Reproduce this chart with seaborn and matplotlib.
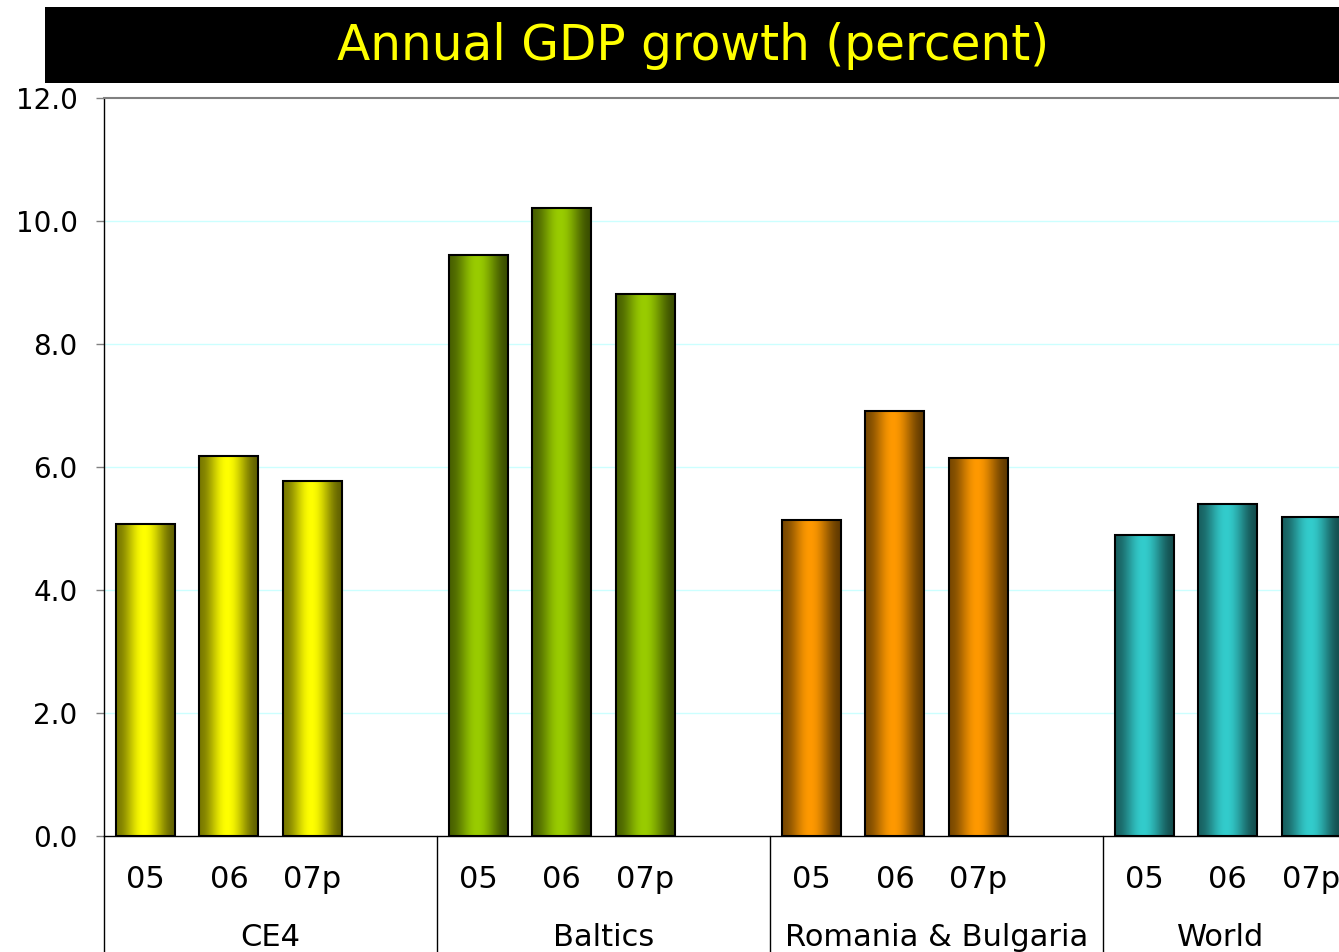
import numpy as np
import pandas as pd
import matplotlib
matplotlib.use("Agg")
import matplotlib.pyplot as plt
import matplotlib.transforms as mtransforms
from matplotlib.patches import Rectangle
import seaborn as sns

# ---- data ----
regions = ["CE4", "Baltics", "Romania & Bulgaria", "World"]
years = ["05", "06", "07p"]
ce4 = [5.07, 6.18, 5.77]
baltics = [9.45, 10.21, 8.81]
rom_bul = [5.14, 6.91, 6.15]
world = [4.89, 5.40, 5.19]
region_colors = ["#FFFF00", "#99CC00", "#FF9900", "#33CCCC"]
yticks = [0.0, 2.0, 4.0, 6.0, 8.0, 10.0, 12.0]
title = "Annual GDP growth (percent)"

values = [ce4, baltics, rom_bul, world]
rows = []
for r, vals in zip(regions, values):
    for y, v in zip(years, vals):
        rows.append({"key": f"{r}|{y}", "region": r, "year": y, "value": v})
df = pd.DataFrame(rows)

# slots: 3 years + one empty gap per region
order = []
tick_labels = []
for r in regions:
    for y in years + ["_gap"]:
        order.append(f"{r}|{y}")
        tick_labels.append(y if y != "_gap" else "")

sns.set_theme(style="white")
plt.rcParams["font.family"] = ["DejaVu Sans"]

W, H = 1339, 952
fig = plt.figure(figsize=(W / 100, H / 100), dpi=100)
ax_left, ax_right = 104, 104 + 83.25 * 16
ax_top, ax_bot = 98, 836
ax = fig.add_axes([ax_left / W, 1 - ax_bot / H, (ax_right - ax_left) / W, (ax_bot - ax_top) / H])

palette = dict(zip(regions, region_colors))
sns.barplot(data=df, x="key", y="value", hue="region", order=order, palette=palette,
            dodge=False, width=0.71, ax=ax, legend=False, edgecolor="black", linewidth=1.5)

# gradient shading on bars
t = np.linspace(0, 1, 200)
peak = 0.47
f = np.where(t < peak,
             0.48 + 0.52 * (1 - np.cos(np.pi * t / peak)) / 2,
             1.0 - 0.62 * (1 - np.cos(np.pi * (t - peak) / (1 - peak))) / 2)
bars = [p for p in ax.patches if isinstance(p, Rectangle) and p.get_height() > 0]
for p in bars:
    xc = p.get_x() + p.get_width() / 2
    idx = int(round(xc))
    reg = order[idx].split("|")[0]
    base = np.array(matplotlib.colors.to_rgb(palette[reg]))
    img = (f[:, None] * base[None, :])[None, :, :]
    ax.imshow(img, extent=[p.get_x(), p.get_x() + p.get_width(), 0, p.get_height()],
              aspect="auto", zorder=1.5, interpolation="bilinear")
    p.set_facecolor("none")
    p.set_zorder(2)

ax.set_xlim(-0.5, 15.5)
ax.set_ylim(0, 12)
ax.set_yticks(yticks)
ax.set_yticklabels([f"{v:.1f}" for v in yticks], fontsize=20, color="black")
ax.set_xticks(range(len(order)))
ax.set_xticklabels(tick_labels, fontsize=22, color="black")
ax.tick_params(axis="x", length=0, pad=21)
ax.tick_params(axis="y", length=6, width=1, color="#808080", pad=13, left=True)
ax.set_xlabel("")
ax.set_ylabel("")

ax.grid(False)
for yv in yticks[1:-1]:
    ax.axhline(yv, color="#CCFFFF", lw=1, zorder=0.5)

for s in ["left", "bottom"]:
    ax.spines[s].set_color("black")
    ax.spines[s].set_linewidth(1)
ax.spines["top"].set_color("#808080")
ax.spines["top"].set_linewidth(1.5)
ax.spines["right"].set_visible(False)

# group separators and labels (labels centred on the visible part of each group)
trans = mtransforms.blended_transform_factory(ax.transData, ax.transAxes)
fig.canvas.draw()
vis_right = ax.transData.inverted().transform((W - 1, 0))[0]
for i in range(len(regions) + 1):
    xb = i * 4 - 0.5
    ax.plot([xb, xb], [0, -0.25], transform=trans, color="black", lw=1, clip_on=False)
for i, r in enumerate(regions):
    g0, g1 = i * 4 - 0.5, min(i * 4 + 3.5, vis_right)
    ax.text((g0 + g1) / 2, -0.137, r, transform=trans, ha="center", va="center",
            fontsize=22, color="black")

# title bar
fig.patches.append(Rectangle((45 / W, 1 - 83 / H), 1 - 45 / W, 76 / H,
                             transform=fig.transFigure, facecolor="black", edgecolor="none", zorder=0))
fig.text(693 / W, 1 - 46 / H, title, ha="center", va="center", fontsize=35, color="#FFFF00")

fig.savefig("out.png", dpi=100)
